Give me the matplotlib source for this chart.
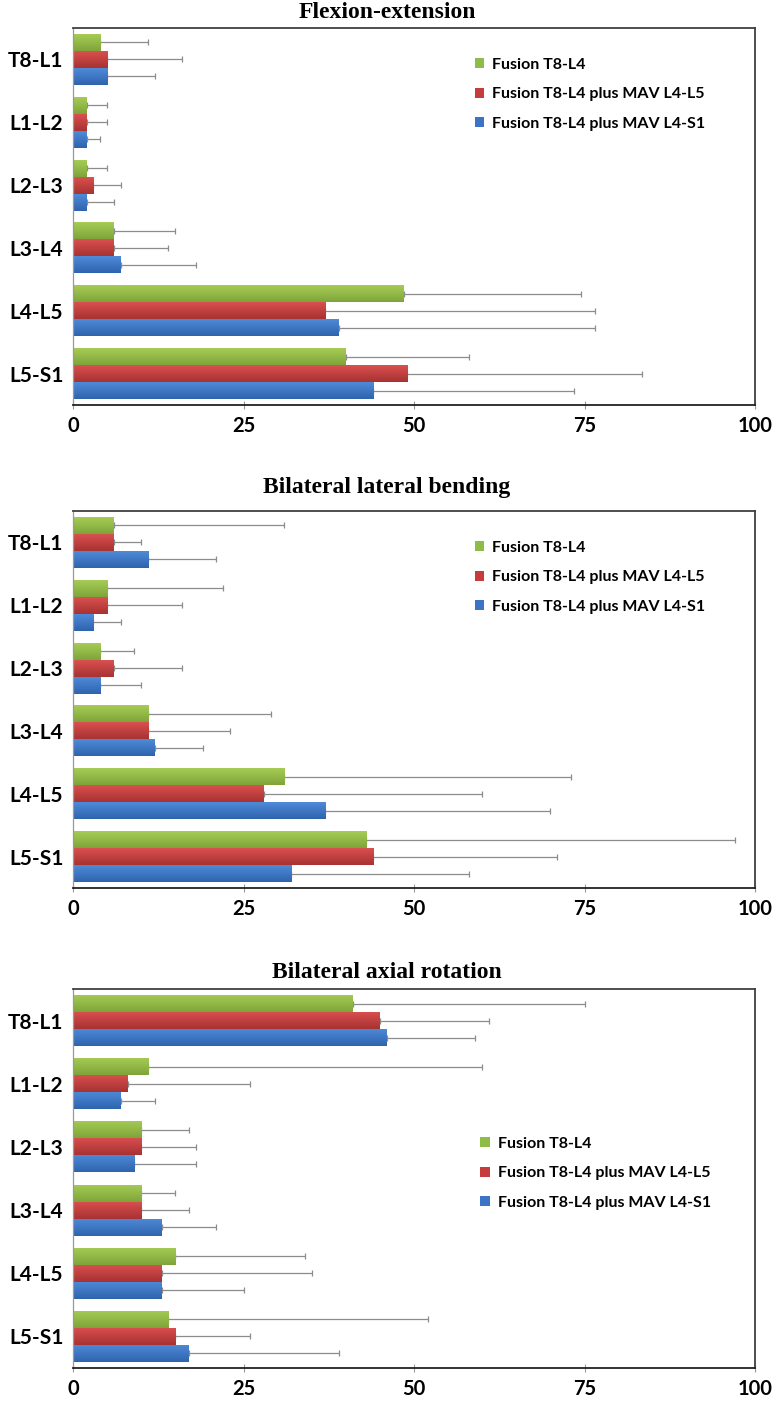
import numpy as np
import matplotlib
matplotlib.use("Agg")
import matplotlib.pyplot as plt
from matplotlib.colors import LinearSegmentedColormap

segments = ["T8-L1", "L1-L2", "L2-L3", "L3-L4", "L4-L5", "L5-S1"]
series = ["Fusion T8-L4", "Fusion T8-L4 plus MAV L4-L5", "Fusion T8-L4 plus MAV L4-S1"]
titles = ["Flexion-extension", "Bilateral lateral bending", "Bilateral axial rotation"]
xticks = [0, 25, 50, 75, 100]

# mean values per segment (green, red, blue)
flex_green = [4, 2, 2, 6, 48.5, 40]
flex_red = [5, 2, 3, 6, 37, 49]
flex_blue = [5, 2, 2, 7, 39, 44]
# upper end of the error bar
flex_green_hi = [11, 5, 5, 15, 74.5, 58]
flex_red_hi = [16, 5, 7, 14, 76.5, 83.5]
flex_blue_hi = [12, 4, 6, 18, 76.5, 73.5]

lat_green = [6, 5, 4, 11, 31, 43]
lat_red = [6, 5, 6, 11, 28, 44]
lat_blue = [11, 3, 4, 12, 37, 32]
lat_green_hi = [31, 22, 9, 29, 73, 97]
lat_red_hi = [10, 16, 16, 23, 60, 71]
lat_blue_hi = [21, 7, 10, 19, 70, 58]

rot_green = [41, 11, 10, 10, 15, 14]
rot_red = [45, 8, 10, 10, 13, 15]
rot_blue = [46, 7, 9, 13, 13, 17]
rot_green_hi = [75, 60, 17, 15, 34, 52]
rot_red_hi = [61, 26, 18, 17, 35, 26]
rot_blue_hi = [59, 12, 18, 21, 25, 39]

panels = [
    ([flex_green, flex_red, flex_blue], [flex_green_hi, flex_red_hi, flex_blue_hi]),
    ([lat_green, lat_red, lat_blue], [lat_green_hi, lat_red_hi, lat_blue_hi]),
    ([rot_green, rot_red, rot_blue], [rot_green_hi, rot_red_hi, rot_blue_hi]),
]

# light (top) / dark (bottom) shade of each series
shades = [("#a6cc55", "#7fa53a"), ("#d9504f", "#a83232"), ("#4f8ad8", "#2f64ad")]
legend_cols = ["#8fbb47", "#c63c3c", "#3b74c6"]

W, H = 774, 1402
fig = plt.figure(figsize=(W / 100, H / 100), dpi=100)

left, right = 73, 755
boxes = [(28, 405), (511, 888), (989, 1368)]
title_y = [12, 488, 972]
leg_anchor = [(0.589, 0.921), (0.589, 0.921), (0.597, 0.61)]

lab_font = ["Lato", "DejaVu Sans"]
bh = 0.27

for k, (vals, his) in enumerate(panels):
    top, bot = boxes[k]
    ax = fig.add_axes([left / W, 1 - bot / H, (right - left) / W, (bot - top) / H])
    y = np.arange(len(segments))
    handles = []
    for s in range(3):
        v = np.array(vals[s], dtype=float)
        hi = np.array(his[s], dtype=float)
        pos = y + (s - 1) * bh
        bars = ax.barh(pos, v, height=bh, color=legend_cols[s], label=series[s],
                       xerr=[np.zeros_like(v), hi - v],
                       error_kw=dict(ecolor="#8c8c8c", elinewidth=0.9, capsize=2, capthick=0.9),
                       zorder=2)
        handles.append(bars)
        cmap = LinearSegmentedColormap.from_list("g", [shades[s][0], shades[s][1]])
        grad = np.linspace(0, 1, 50).reshape(-1, 1)
        for b in bars.patches:
            x0, y0 = b.get_x(), b.get_y()
            im = ax.imshow(grad, extent=[x0, x0 + b.get_width(), y0 + b.get_height(), y0],
                           aspect="auto", cmap=cmap, origin="upper", zorder=2.5)
            im.set_clip_path(b)
    ax.set_xlim(0, 100)
    ax.set_ylim(len(segments) - 0.5, -0.5)
    ax.set_xticks(xticks)
    ax.set_yticks(y)
    ax.set_yticklabels(segments, family=lab_font, fontweight="bold", fontsize=15)
    ax.set_xticklabels([str(t) for t in xticks], family=lab_font, fontweight="bold", fontsize=14.5)
    ax.tick_params(axis="y", length=0, pad=7)
    ax.tick_params(axis="x", direction="inout", length=6, width=0.8, color="#999999", pad=5)
    for sp in ax.spines.values():
        sp.set_color("#404040")
        sp.set_linewidth(1.3)
    ax.spines["left"].set_color("#999999")
    ax.spines["left"].set_linewidth(0.9)
    ax.spines["bottom"].set_color("#222222")

    lx, ly = leg_anchor[k]
    ax.legend(handles=handles, loc="upper left", bbox_to_anchor=(lx, ly), frameon=False,
              prop=dict(family=lab_font, weight="bold", size=11.5), handlelength=0.6,
              handleheight=0.6, handletextpad=0.5, labelspacing=0.97, borderpad=0,
              borderaxespad=0)

    fig.text(0.5, 1 - title_y[k] / H, titles[k], ha="center", va="center",
             family=["Liberation Serif", "DejaVu Serif"], fontweight="bold", fontsize=17)

fig.savefig("out.png", dpi=100, facecolor="white")
